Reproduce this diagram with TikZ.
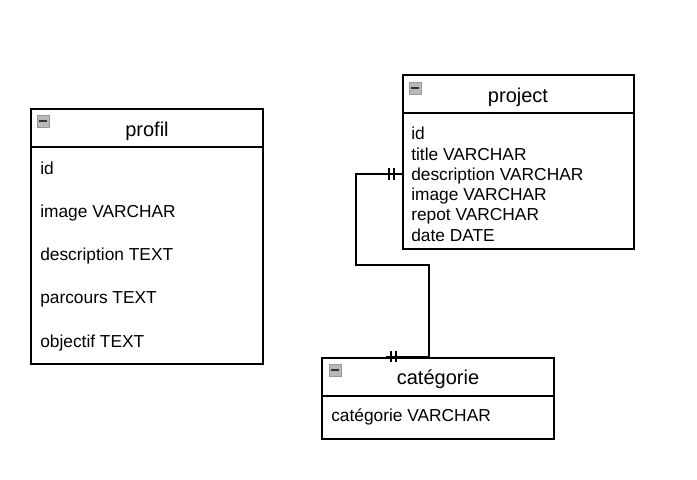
\documentclass[tikz,border=0pt]{standalone}
\usepackage{fontspec}
\setmainfont{Liberation Sans}
\begin{document}
\begin{tikzpicture}[x=0.75pt,y=-0.75pt,
  box/.style={draw=black,line width=1.2pt},
  title/.style={font=\fontsize{15}{18}\selectfont,anchor=base,inner sep=0pt},
  row/.style={font=\fontsize{13}{15}\selectfont,anchor=base west,inner sep=0pt},
  rel/.style={draw=black,line width=1.2pt},
  tick/.style={draw=black,line width=1pt}]
\useasboundingbox (0,0) rectangle (697,479);
% icon macro
\newcommand{\myicon}[2]{%
  \fill[gray!55,draw=gray!80] (#1,#2) rectangle ++(12,12);
  \draw[black!80,line width=1.1pt] (#1+2,#2+6) -- ++(8,0);}
% profil
\draw[box] (31,109) rectangle (263,364);
\draw[box] (31,147) -- (263,147);
\myicon{37}{115}
\node[title] (profilT) at (147,136) {profil};
\node[row] (p1) at (40,174) {id};
\node[row] (p2) at (40,217) {image VARCHAR};
\node[row] (p3) at (40,260) {description TEXT};
\node[row] (p4) at (40,303) {parcours TEXT};
\node[row] (p5) at (40,347) {objectif TEXT};
% project
\draw[box] (403,75) rectangle (634,249);
\draw[box] (403,113) -- (634,113);
\myicon{409}{82}
\node[title] (projT) at (518,102) {project};
\node[row] (r1) at (411,139) {id};
\node[row] (r2) at (411,160) {title VARCHAR};
\node[row] (r3) at (411,180) {description VARCHAR};
\node[row] (r4) at (411,200) {image VARCHAR};
\node[row] (r5) at (411,220) {repot VARCHAR};
\node[row] (r6) at (411,241) {date DATE};
% categorie
\draw[box] (322,358) rectangle (554,439);
\draw[box] (322,396) -- (554,396);
\myicon{329}{364}
\node[title] (catT) at (438,384) {catégorie};
\node[row] (c1) at (331,421) {catégorie VARCHAR};
% relation
\coordinate (a) at (403,174);
\coordinate (b) at (386,357);
\draw[rel] (a) -- (356,174) -- (356,265) -- (429,265) -- (429,357) -- (b);
\draw[tick] (389,168) -- (389,180);
\draw[tick] (394,168) -- (394,180);
\draw[tick] (391,351) -- (391,362);
\draw[tick] (396,351) -- (396,362);
\end{tikzpicture}
\end{document}
